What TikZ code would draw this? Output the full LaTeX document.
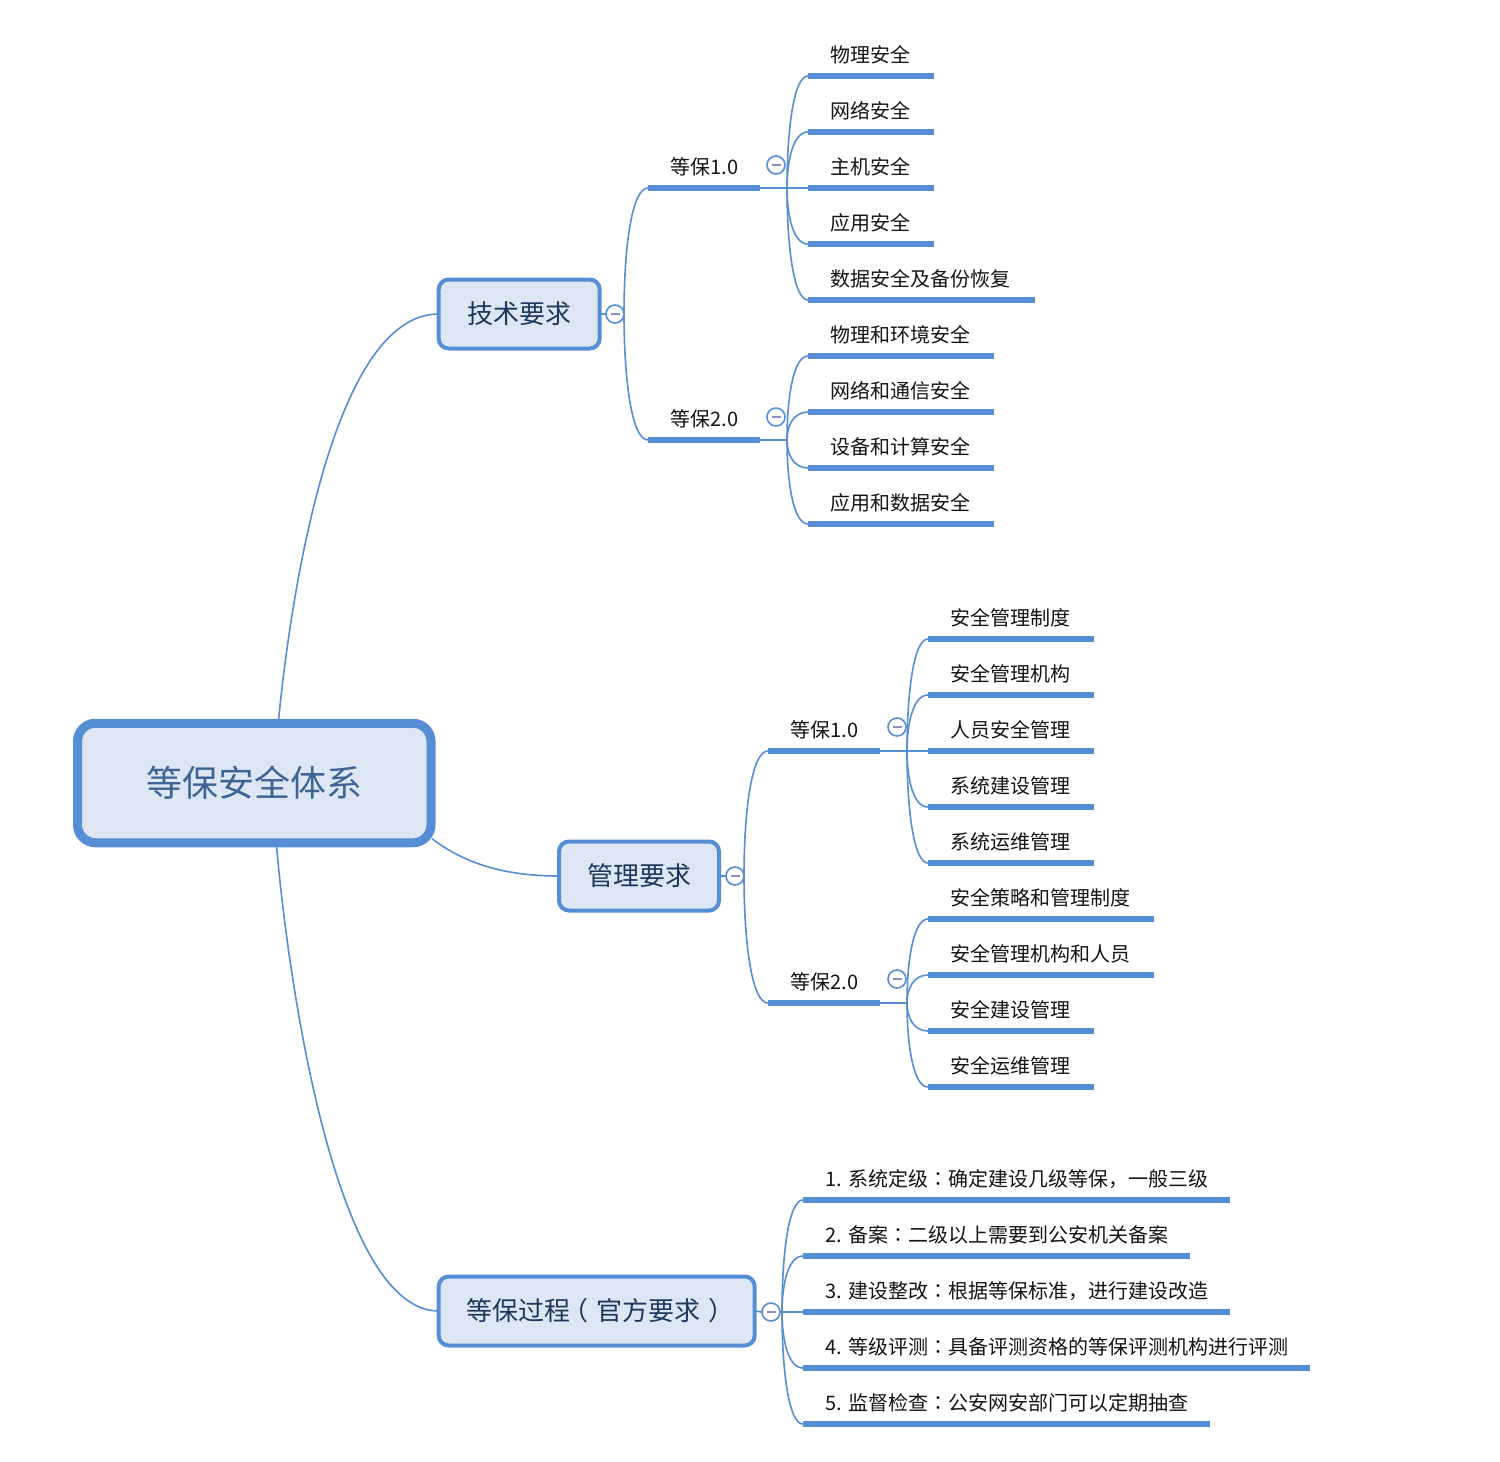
\documentclass[tikz,border=0pt]{standalone}
\usepackage{fontspec}
\setmainfont{Noto Sans CJK SC}
\newfontfamily\tcpunct{Noto Sans CJK TC}
\newcommand\fcolon{{\tcpunct ：}}
\newcommand\fcomma{，}
\newcommand\lparen{\kern-0.3em（\kern0.3em}
\newcommand\rparen{\kern0.3em）\kern-0.3em}
\usetikzlibrary{calc}
\definecolor{lineblue}{RGB}{86,142,214}
\definecolor{boxfill}{RGB}{221,230,242}
\definecolor{boxtext}{RGB}{30,55,92}
\definecolor{roottext}{RGB}{62,100,150}
\definecolor{minuscol}{RGB}{138,143,192}
\newcommand\mmleaf[5]{%
  \coordinate (#1) at (#2,#3);
  \coordinate (#1e) at (#4,#3);
  \draw[uline] (#1) -- (#1e);
  \node[leaftext] (#1t) at ($(#1)+(22,-14)$) {#5};
}
\newcommand\mmcurve[2]{%
  \draw[conn] (#1) .. controls ($(#1)!0.5!(#1|-#2)$) and ($(#1|-#2)!0.3!(#2)$) .. (#2);
}
\begin{document}
\begin{tikzpicture}[x=0.5pt,y=-0.5pt,
  conn/.style={draw=lineblue,line width=0.8pt},
  uline/.style={draw=lineblue,line width=2.6pt},
  leaftext/.style={anchor=base west,inner sep=0pt,font=\fontsize{10pt}{12pt}\selectfont,text=black!92},
  topic/.style={draw=lineblue,fill=boxfill,line width=2pt,rounded corners=5pt,inner sep=0pt,outer sep=0pt,minimum height=34.5pt,font=\fontsize{13pt}{15pt}\selectfont,text=boxtext},
  rootbox/.style={draw=lineblue,fill=boxfill,line width=4.5pt,rounded corners=9pt,inner sep=0pt,outer sep=0pt,minimum width=176.75pt,minimum height=59.75pt,font=\fontsize{18pt}{21pt}\selectfont,text=roottext},
  toggle/.style={circle,draw=lineblue,fill=white,line width=0.8pt,minimum size=9pt,inner sep=0pt,outer sep=0pt,
    path picture={\draw[minuscol,line width=0.8pt] ($(path picture bounding box.center)+(-4.5,0)$) -- ($(path picture bounding box.center)+(4.5,0)$);}}
]
\fill[white] (0,0) rectangle (1500,1462);
\useasboundingbox (0,0) rectangle (1500,1462);

% root and main topics
\node[rootbox] (root) at (254.25,783) {等保安全体系};
\node[topic,minimum width=80.5pt] (tech) at (519.2,314) {技术要求};
\node[topic,minimum width=80pt] (mgmt) at (639,876) {管理要求};
\node[topic,minimum width=158pt] (proc) at (596.7,1311) {等保过程\lparen 官方要求\rparen};

\draw[conn] ($(root.north)+(24,0)$) .. controls (290,600) and (332,314) .. (tech.west);
\draw[conn] ($(root.south)+(22,0)$) .. controls (288,980) and (335,1311) .. (proc.west);
\draw[conn] ($(root.south east)+(1,-4)$) .. controls (468,866) and (510,876) .. (mgmt.west);

% ---------- 技术要求 ----------
\node[toggle] (ctech) at (615,314) {};
\draw[conn] (tech.east) -- (ctech.west);
\coordinate (ts) at (ctech.east);
\mmleaf{t1}{648}{188}{760}{等保1.0}
\mmleaf{t2}{648}{440}{760}{等保2.0}
\mmcurve{ts}{t1}
\mmcurve{ts}{t2}
\node[toggle] (ct1) at (776,165) {};
\node[toggle] (ct2) at (776,417) {};
\coordinate (t1s) at (787,188);
\coordinate (t2s) at (787,440);

\mmleaf{a1}{808}{76}{934}{物理安全}
\mmleaf{a2}{808}{132}{934}{网络安全}
\mmleaf{a3}{808}{188}{934}{主机安全}
\mmleaf{a4}{808}{244}{934}{应用安全}
\mmleaf{a5}{808}{300}{1035}{数据安全及备份恢复}
\draw[conn] (t1e) -- (a3);
\mmcurve{t1s}{a1}
\mmcurve{t1s}{a2}
\mmcurve{t1s}{a4}
\mmcurve{t1s}{a5}

\mmleaf{b1}{808}{356}{994}{物理和环境安全}
\mmleaf{b2}{808}{412}{994}{网络和通信安全}
\mmleaf{b3}{808}{468}{994}{设备和计算安全}
\mmleaf{b4}{808}{524}{994}{应用和数据安全}
\draw[conn] (t2e) -- (t2s);
\mmcurve{t2s}{b1}
\mmcurve{t2s}{b2}
\mmcurve{t2s}{b3}
\mmcurve{t2s}{b4}

% ---------- 管理要求 ----------
\node[toggle] (cmgmt) at (735,876) {};
\draw[conn] (mgmt.east) -- (cmgmt.west);
\coordinate (ms) at (cmgmt.east);
\mmleaf{m1}{768}{751}{880}{等保1.0}
\mmleaf{m2}{768}{1003}{880}{等保2.0}
\mmcurve{ms}{m1}
\mmcurve{ms}{m2}
\node[toggle] (cm1) at (897,727) {};
\node[toggle] (cm2) at (897,979) {};
\coordinate (m1s) at (907,751);
\coordinate (m2s) at (907,1003);

\mmleaf{c1}{928}{639}{1094}{安全管理制度}
\mmleaf{c2}{928}{695}{1094}{安全管理机构}
\mmleaf{c3}{928}{751}{1094}{人员安全管理}
\mmleaf{c4}{928}{807}{1094}{系统建设管理}
\mmleaf{c5}{928}{863}{1094}{系统运维管理}
\draw[conn] (m1e) -- (c3);
\mmcurve{m1s}{c1}
\mmcurve{m1s}{c2}
\mmcurve{m1s}{c4}
\mmcurve{m1s}{c5}

\mmleaf{d1}{928}{919}{1154}{安全策略和管理制度}
\mmleaf{d2}{928}{975}{1154}{安全管理机构和人员}
\mmleaf{d3}{928}{1031}{1094}{安全建设管理}
\mmleaf{d4}{928}{1087}{1094}{安全运维管理}
\draw[conn] (m2e) -- (m2s);
\mmcurve{m2s}{d1}
\mmcurve{m2s}{d2}
\mmcurve{m2s}{d3}
\mmcurve{m2s}{d4}

% ---------- 等保过程 ----------
\node[toggle] (cproc) at (771,1312) {};
\draw[conn] (proc.east) -- (cproc.west);
\coordinate (ps) at (782,1312);
\mmleaf{p1}{803}{1200}{1230}{1. 系统定级\fcolon 确定建设几级等保\fcomma 一般三级}
\mmleaf{p2}{803}{1256}{1190}{2. 备案\fcolon 二级以上需要到公安机关备案}
\mmleaf{p3}{803}{1312}{1230}{3. 建设整改\fcolon 根据等保标准\fcomma 进行建设改造}
\mmleaf{p4}{803}{1368}{1310}{4. 等级评测\fcolon 具备评测资格的等保评测机构进行评测}
\mmleaf{p5}{803}{1424}{1210}{5. 监督检查\fcolon 公安网安部门可以定期抽查}
\draw[conn] (cproc.east) -- (p3);
\mmcurve{ps}{p1}
\mmcurve{ps}{p2}
\mmcurve{ps}{p4}
\mmcurve{ps}{p5}
\end{tikzpicture}
\end{document}
